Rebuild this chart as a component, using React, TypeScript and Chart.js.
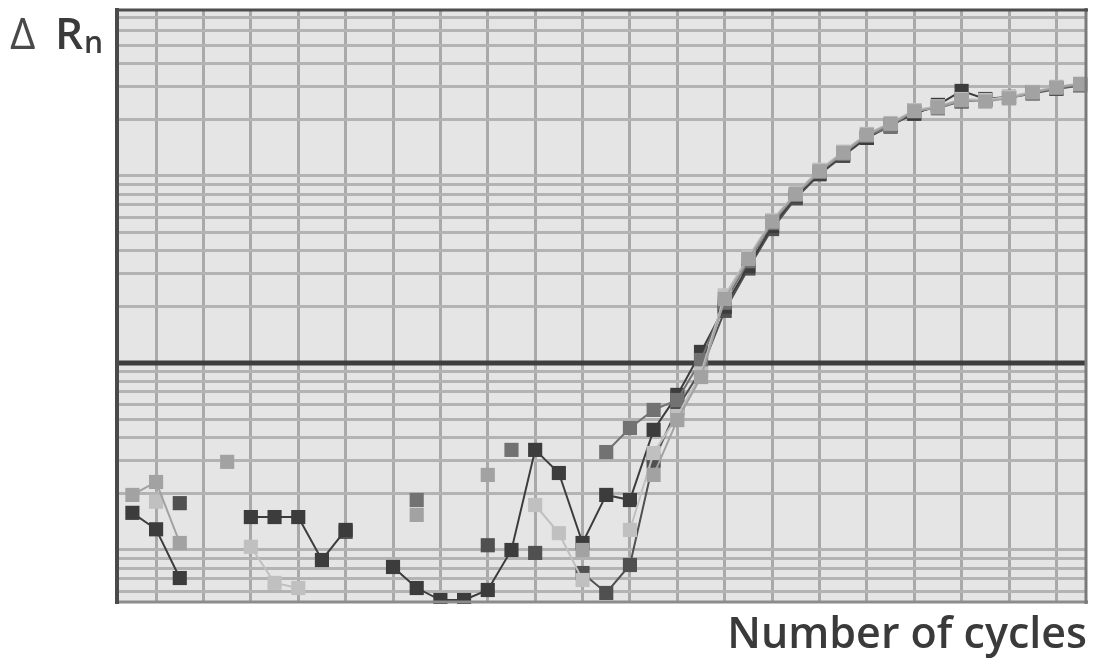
import React, { useEffect, useRef } from "react";
import { Chart, registerables } from "chart.js";

Chart.register(...registerables);

// Cycle numbers (x categories)
const cycles = [
  1, 2, 3, 4, 5, 6, 7, 8, 9, 10, 11, 12, 13, 14, 15, 16, 17, 18, 19, 20, 21,
  22, 23, 24, 25, 26, 27, 28, 29, 30, 31, 32, 33, 34, 35, 36, 37, 38, 39, 40, 41,
];

// ΔRn replicate series (null = not visible on log scale)
const seriesDark1 = [
  0.0158, 0.0129, 0.00708, null, null, 0.015, 0.015, 0.015, 0.00884, 0.0128,
  null, 0.00811, 0.00626, 0.0054, 0.0054, 0.00611, 0.01, 0.0343, 0.0258, 0.0109,
  0.0197, 0.0185, 0.0439, 0.0675, 0.1146, 0.2, 0.33, 0.54, 0.78, 1.03, 1.3, 1.6,
  1.88, 2.15, 2.4, 2.85, 2.58, 2.65, 2.8, 2.95, 3.1,
];
const seriesDark2 = [
  null, null, 0.0178, null, null, null, null, null, null, 0.0125, null, null,
  null, null, null, 0.0106, null, 0.00964, null, 0.00753, 0.00589, 0.00831, 0.03,
  0.0574, 0.0918, 0.19, 0.32, 0.52, 0.76, 1.02, 1.28, 1.6, 1.85, 2.18, 2.35, 2.5,
  2.55, 2.62, 2.76, 2.92, 3.05,
];
const seriesMidDark = [
  null, null, null, null, null, null, null, null, null, null, null, null, 0.0185,
  null, null, null, 0.0343, null, null, null, 0.0334, 0.0449, 0.0561, 0.0634,
  0.1038, 0.21, 0.35, 0.56, 0.79, 1.05, 1.31, 1.64, 1.83, 2.25, 2.3, 2.52, 2.55,
  2.63, 2.78, 2.95, 3.07,
];
const seriesMid = [
  0.0197, 0.0231, 0.0109, null, 0.0296, null, null, null, null, null, null, null,
  0.0154, null, null, 0.0252, null, null, null, 0.01, null, null, 0.0252, 0.0495,
  0.0841, 0.22, 0.36, 0.57, 0.8, 1.06, 1.33, 1.66, 1.9, 2.22, 2.33, 2.55, 2.5,
  2.6, 2.8, 2.97, 3.1,
];
const seriesLight = [
  null, 0.0181, null, null, null, 0.0104, 0.00667, 0.00626, null, null, null,
  null, null, null, null, null, null, 0.0174, 0.0123, 0.00691, null, 0.0128,
  0.033, 0.052, 0.088, 0.23, 0.37, 0.58, 0.81, 1.08, 1.35, 1.68, 1.92, 2.25, 2.36,
  2.58, 2.55, 2.65, 2.82, 3.0, 3.12,
];

// Threshold level
const thresholdValue = 0.1;

// Grid positions
const xGridCycles = [2, 4, 6, 8, 10, 12, 14, 16, 18, 20, 22, 24, 26, 28, 30, 32, 34, 36, 38, 40];
const logSignificands = [1, 2, 3, 4, 5, 6, 7, 8, 9];
const logDecades = [0.001, 0.01, 0.1, 1];

// Axis ranges
const xMin = 0.35;
const xMax = 41.25;
const yMin = 0.00527;
const yMax = 7.72;

const yGridValues = logDecades
  .flatMap((d) => logSignificands.map((s) => Number((s * d).toPrecision(3))))
  .filter((v) => v > yMin && v < yMax);

const seriesList = [
  { values: seriesMid, color: "#a2a2a2", order: 1 },
  { values: seriesLight, color: "#c0c0c0", order: 2 },
  { values: seriesMidDark, color: "#727272", order: 3 },
  { values: seriesDark1, color: "#3c3c3c", order: 4 },
  { values: seriesDark2, color: "#505050", order: 5 },
];

const framePlugin = {
  id: "frame",
  beforeDraw(chart: any) {
    const { ctx, chartArea: a } = chart;
    ctx.save();
    ctx.fillStyle = "#e5e5e5";
    ctx.fillRect(a.left, a.top, a.right - a.left, a.bottom - a.top);
    ctx.restore();
  },
  afterDatasetsDraw(chart: any) {
    const { ctx, chartArea: a } = chart;
    ctx.save();
    const line = (x1: number, y1: number, x2: number, y2: number, c: string, w: number) => {
      ctx.strokeStyle = c;
      ctx.lineWidth = w;
      ctx.beginPath();
      ctx.moveTo(x1, y1);
      ctx.lineTo(x2, y2);
      ctx.stroke();
    };
    line(a.left - 2, a.bottom, a.right + 2, a.bottom, "#8c8c8c", 3);
    line(a.right, a.top - 2, a.right, a.bottom + 2, "#7a7a7a", 3);
    line(a.left - 2, a.top, a.right + 2, a.top, "#4e4e4e", 3);
    line(a.left, a.top - 2, a.left, a.bottom + 2, "#4a4a4a", 4);
    ctx.restore();
  },
};

export default function App() {
  const ref = useRef<HTMLCanvasElement>(null);

  useEffect(() => {
    if (!ref.current) return;
    const datasets: any[] = seriesList.map((s) => ({
      data: cycles.map((c, i) => ({ x: c, y: s.values[i] })),
      borderColor: s.color,
      backgroundColor: s.color,
      pointBackgroundColor: s.color,
      pointBorderWidth: 0,
      pointStyle: "rect",
      pointRadius: 10,
      borderWidth: 2,
      spanGaps: false,
      order: s.order,
      clip: 2,
    }));
    datasets.push({
      data: [
        { x: xMin, y: thresholdValue },
        { x: xMax, y: thresholdValue },
      ],
      borderColor: "#3e3e3e",
      borderWidth: 5,
      pointRadius: 0,
      order: 10,
    });

    const chart = new Chart(ref.current, {
      type: "line",
      data: { datasets },
      options: {
        animation: false,
        responsive: false,
        events: [],
        layout: { padding: { left: 117, top: 10, right: 7, bottom: 63 } },
        plugins: { legend: { display: false }, tooltip: { enabled: false } },
        scales: {
          x: {
            type: "linear",
            min: xMin,
            max: xMax,
            afterBuildTicks: (scale: any) => {
              scale.ticks = xGridCycles.map((v) => ({ value: v }));
            },
            ticks: { display: false },
            grid: { color: "#a9a9a9", lineWidth: 3, drawTicks: false },
            border: { display: false },
          },
          y: {
            type: "logarithmic",
            min: yMin,
            max: yMax,
            afterBuildTicks: (scale: any) => {
              scale.ticks = yGridValues.map((v) => ({ value: v }));
            },
            ticks: { display: false },
            grid: { color: "#b3b3b3", lineWidth: 3, drawTicks: false },
            border: { display: false },
          },
        },
      } as any,
      plugins: [framePlugin],
    });
    return () => chart.destroy();
  }, []);

  const font = '"Open Sans", "DejaVu Sans", sans-serif';
  return (
    <div
      style={{
        position: "fixed",
        left: 0,
        top: 0,
        width: 1096,
        height: 665,
        background: "#ffffff",
        fontFamily: font,
        overflow: "hidden",
      }}
    >
      <canvas
        ref={ref}
        width={1096}
        height={665}
        style={{ position: "absolute", left: 0, top: 0, width: 1096, height: 665, filter: "blur(0.6px)" }}
      />
      <div style={{ position: "absolute", left: 10, top: 10, fontSize: 44, lineHeight: 1, color: "#4a4a4a", fontWeight: 400 }}>
        Δ
      </div>
      <div style={{ position: "absolute", left: 55, top: 10, fontSize: 44, lineHeight: 1, color: "#3a3a3a", fontWeight: 600 }}>
        R
      </div>
      <div style={{ position: "absolute", left: 84, top: 27, fontSize: 30, lineHeight: 1, color: "#3a3a3a", fontWeight: 600 }}>
        n
      </div>
      <div
        style={{
          position: "absolute",
          right: 9,
          top: 610,
          fontSize: 43,
          lineHeight: 1,
          color: "#3a3a3a",
          fontWeight: 600,
          whiteSpace: "nowrap",
        }}
      >
        Number of cycles
      </div>
    </div>
  );
}
